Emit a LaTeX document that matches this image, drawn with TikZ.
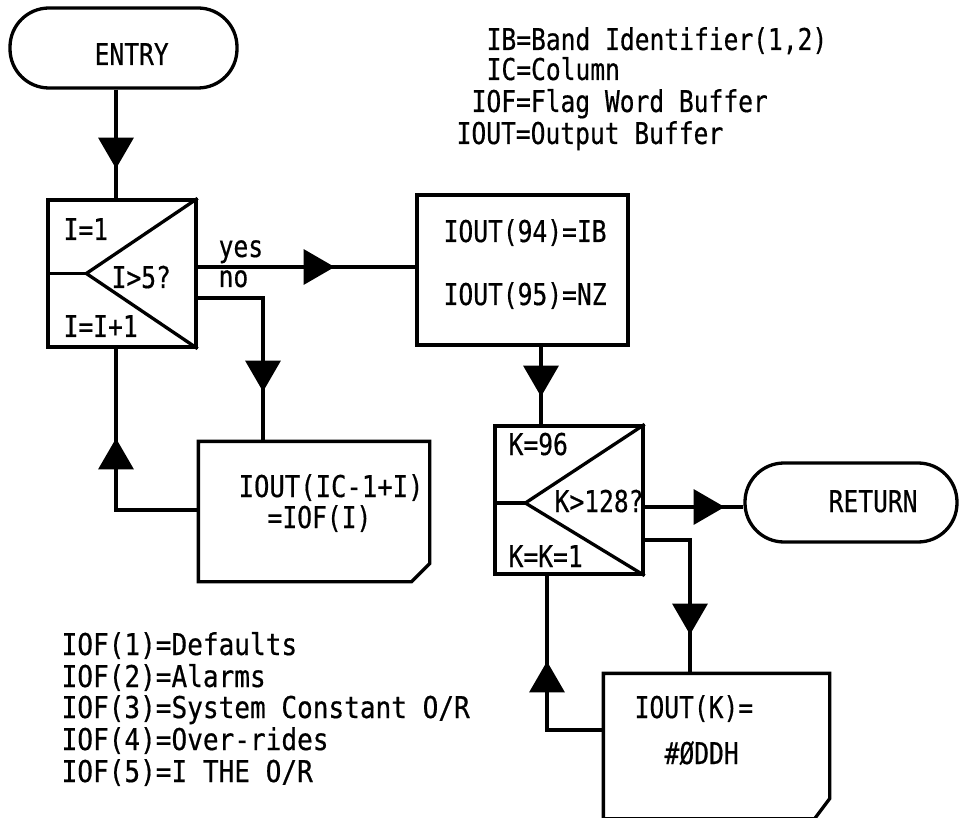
\documentclass[tikz,border=0pt]{standalone}
\usepackage{graphicx}
\usepackage{fontspec}
\setmainfont[FakeStretch=0.82,FakeBold=0.5]{DejaVu Sans Mono}
\usetikzlibrary{arrows.meta,decorations.markings,calc}
\begin{document}
\begin{tikzpicture}[x=1pt,y=-1pt,line width=3.3pt,
  font=\fontsize{30}{32}\selectfont,
  box/.style={draw,rectangle,inner sep=0pt},
  ghost/.style={rectangle,inner sep=0pt},
  term/.style={draw,rectangle,rounded corners=39pt,inner sep=0pt},
  lbl/.style={anchor=base west,inner sep=0pt},
  arr/.style={postaction={decorate},decoration={markings,
    mark=at position #1 with {\arrow{Triangle[length=31pt,width=35pt]}}}}]
\useasboundingbox (0,0) rectangle (959,818);

% legends
\node[lbl] (lg1) at (485,50) {IB=Band Identifier(1,2)};
\node[lbl] (lg2) at (485,80) {IC=Column};
\node[lbl] (lg3) at (470,112) {IOF=Flag Word Buffer};
\node[lbl] (lg4) at (455,144) {IOUT=Output Buffer};

\node[lbl] (lb1) at (60,655) {\scalebox{1.06}[1]{IOF(1)=Defaults}};
\node[lbl] (lb2) at (60,687) {\scalebox{1.06}[1]{IOF(2)=Alarms}};
\node[lbl] (lb3) at (60,718) {\scalebox{1.06}[1]{IOF(3)=System Constant O/R}};
\node[lbl] (lb4) at (60,750) {\scalebox{1.06}[1]{IOF(4)=Over-rides}};
\node[lbl] (lb5) at (60,782) {\scalebox{1.06}[1]{IOF(5)=I THE O/R}};

% terminals
\node[term,minimum width=227pt,minimum height=80pt] (entry) at (123.5,48) {};
\node[lbl] (entryt) at (93,65) {ENTRY};
\node[term,minimum width=212pt,minimum height=79pt] (ret) at (851,502.5) {};
\node[lbl] (rett) at (827,512) {RETURN};

% loop 1
\node[box,minimum width=148pt,minimum height=147pt] (loop1) at (122,273.5) {};
\coordinate (apex1) at ($(loop1.west)+(40,0)$);
\draw (loop1.west) -- (apex1);
\draw (loop1.north east) -- (apex1) -- (loop1.south east);
\node[lbl] (l1a) at (62,240) {I=1};
\node[lbl] (l1b) at (110,288) {I>5?};
\node[lbl] (l1c) at (62,337) {I=I+1};
\node[lbl] (yes) at (217,257) {yes};
\node[lbl] (no) at (217,287) {no};

% box 2
\node[box,minimum width=211pt,minimum height=150pt] (box2) at (522.5,270) {};
\node[lbl] (b2a) at (442,242) {IOUT(94)=IB};
\node[lbl] (b2b) at (442,305) {IOUT(95)=NZ};

% box 3
\node[ghost,minimum width=228pt,minimum height=137pt] (box3) at (314,511.5) {};
\draw (box3.north west) -- (box3.north east) -- ($(box3.south east)+(0,-18)$)
  -- ($(box3.south east)+(-18,0)$) -- (box3.south west) -- cycle;
\node[lbl] (b3a) at (237,497) {\scalebox{1.04}[1]{IOUT(IC-1+I)}};
\node[lbl] (b3b) at (266,528) {=IOF(I)};

% loop 2
\node[box,minimum width=148pt,minimum height=148pt] (box4) at (569,500) {};
\coordinate (apex2) at ($(box4.west)+(32,3)$);
\draw ($(box4.west)+(0,3)$) -- (apex2);
\draw (box4.north east) -- (apex2) -- (box4.south east);
\node[lbl] (b4a) at (507,455) {K=96};
\node[lbl] (b4b) at (553,512) {K>128?};
\node[lbl] (b4c) at (507,567) {K=K=1};

% box 5
\node[ghost,minimum width=223pt,minimum height=142pt] (box5) at (716.5,746) {};
\draw (box5.north west) -- (box5.north east) -- ($(box5.south east)+(0,-20)$)
  -- ($(box5.south east)+(-15,0)$) -- (box5.south west) -- cycle;
\node[lbl] (b5a) at (633,718) {IOUT(K)=};
\node[lbl] (b5b) at (663,764) {\#ØDDH};

% connectors
\draw[arr=79pt] (entry.south -| 116,0) -- (loop1.north -| 116,0);
\draw[arr=137pt] (loop1.east |- 0,267) -- (box2.west |- 0,267);
\draw[arr=159pt] (loop1.east |- 0,298) -| (box3.north -| 263,0);
\draw[arr=154pt] (box3.west |- 0,510) -| (loop1.south -| 116,0);
\draw[arr=50pt] (box2.south -| 541,0) -- (box4.north -| 541,0);
\draw[arr=80pt] (box4.east |- 0,507) -- (ret.west |- 0,507);
\draw[arr=140pt] (box4.east |- 0,540) -| (box5.north -| 690,0);
\draw[arr=125pt] (box5.west |- 0,730) -| (box4.south -| 547,0);
\end{tikzpicture}
\end{document}
